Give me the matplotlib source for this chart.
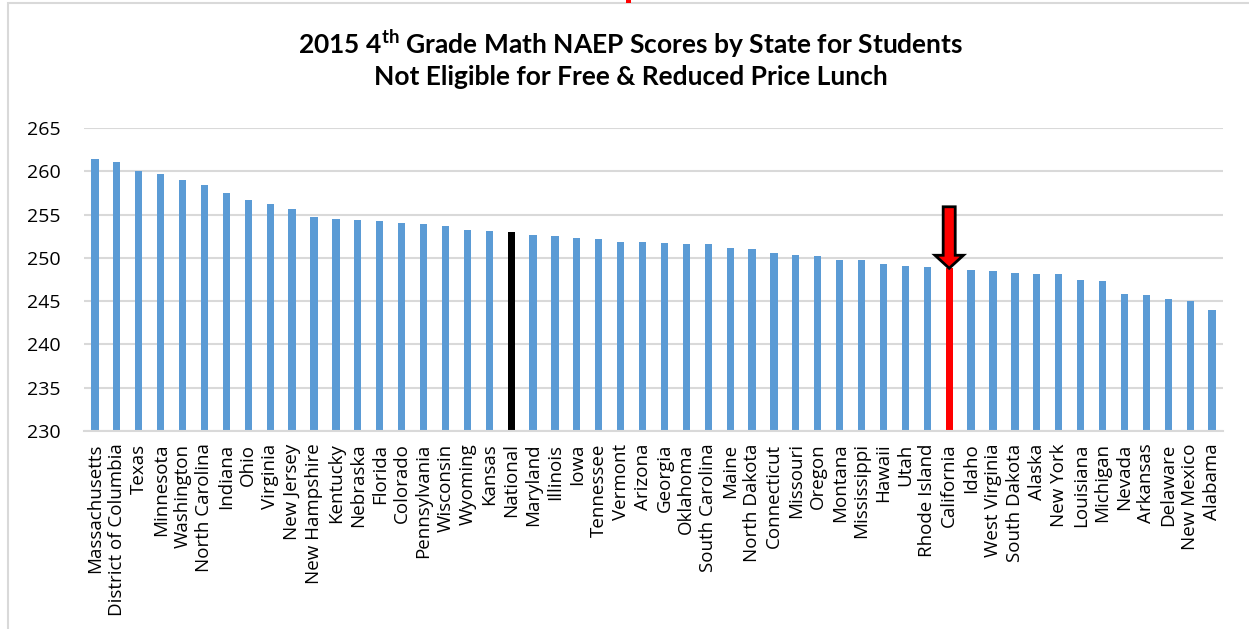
import matplotlib
matplotlib.use('Agg')
import matplotlib.pyplot as plt
from matplotlib.patches import FancyArrow, Rectangle

# Data
states = ['Massachusetts', 'District of Columbia', 'Texas', 'Minnesota', 'Washington',
          'North Carolina', 'Indiana', 'Ohio', 'Virginia', 'New Jersey', 'New Hampshire',
          'Kentucky', 'Nebraska', 'Florida', 'Colorado', 'Pennsylvania', 'Wisconsin',
          'Wyoming', 'Kansas', 'National', 'Maryland', 'Illinois', 'Iowa', 'Tennessee',
          'Vermont', 'Arizona', 'Georgia', 'Oklahoma', 'South Carolina', 'Maine',
          'North Dakota', 'Connecticut', 'Missouri', 'Oregon', 'Montana', 'Mississippi',
          'Hawaii', 'Utah', 'Rhode Island', 'California', 'Idaho', 'West Virginia',
          'South Dakota', 'Alaska', 'New York', 'Louisiana', 'Michigan', 'Nevada',
          'Arkansas', 'Delaware', 'New Mexico', 'Alabama']
scores = [261.4, 261.1, 260.0, 259.7, 259.0, 258.4, 257.5, 256.7, 256.2, 255.6, 254.7,
          254.5, 254.4, 254.3, 254.0, 253.9, 253.7, 253.2, 253.1, 253.0, 252.6, 252.5,
          252.3, 252.2, 251.8, 251.8, 251.7, 251.6, 251.6, 251.1, 251.0, 250.6, 250.3,
          250.2, 249.8, 249.8, 249.3, 249.1, 249.0, 248.8, 248.6, 248.5, 248.3, 248.1,
          248.1, 247.4, 247.3, 245.8, 245.7, 245.3, 245.0, 244.0]
yticks = [230, 235, 240, 245, 250, 255, 260, 265]

colors = []
for s in states:
    if s == 'National':
        colors.append('black')
    elif s == 'California':
        colors.append('#FF0000')
    else:
        colors.append('#5B9BD5')

plt.rcParams['mathtext.fontset'] = 'custom'
plt.rcParams['mathtext.rm'] = 'Lato'
plt.rcParams['mathtext.bf'] = 'Lato:bold'

fig = plt.figure(figsize=(12.49, 6.29), dpi=100)
ax = fig.add_axes([84 / 1249, 1 - 431 / 629, (1223 - 84) / 1249, (431 - 128) / 629])

x = list(range(len(states)))
ax.bar(x, [s - 230 for s in scores], bottom=230, width=0.33, color=colors, zorder=2)

ax.set_xlim(-0.5, len(states) - 0.5)
ax.set_ylim(230, 265)
ax.set_yticks(yticks)
ax.set_yticklabels([str(t) for t in yticks], fontsize=14, family='Open Sans')
ax.set_xticks(x)
ax.set_xticklabels(states, rotation=90, fontsize=13.5, family='Open Sans')
ax.tick_params(axis='y', length=0, pad=17)
ax.tick_params(axis='x', length=0, pad=9)
ax.grid(axis='y', color='#D9D9D9', linewidth=1.5, zorder=0)
for side in ['top', 'right', 'left']:
    ax.spines[side].set_visible(False)
ax.spines['bottom'].set_color('#D9D9D9')
ax.spines['bottom'].set_linewidth(1.5)

# Arrow pointing at California
ci = states.index('California')
tip = scores[ci]
top = tip + 7.1
ax.add_patch(FancyArrow(ci, top, 0, tip - top, width=0.55, head_width=1.3,
                        head_length=1.5, length_includes_head=True,
                        fc='#FF0000', ec='black', lw=2, zorder=3))

# Title
fig.text(0.505, 1 - 44 / 629, r'2015 4$^{\mathbf{th}}$ Grade Math NAEP Scores by State for Students',
         ha='center', va='center', fontsize=19, fontweight='bold', family='Lato')
fig.text(0.505, 1 - 77 / 629, 'Not Eligible for Free & Reduced Price Lunch',
         ha='center', va='center', fontsize=19, fontweight='bold', family='Lato')

# Chart frame
fig.patches.append(Rectangle((8 / 1249, -0.1), 1.2, 1 - 3.5 / 629 + 0.1,
                             transform=fig.transFigure, fill=False,
                             ec='#D9D9D9', lw=1.5))
fig.patches.append(Rectangle((626 / 1249, 1 - 3 / 629), 5 / 1249, 3 / 629,
                             transform=fig.transFigure, fc='#FF0000', ec='none'))

fig.savefig('out.png', dpi=100, facecolor='white')
